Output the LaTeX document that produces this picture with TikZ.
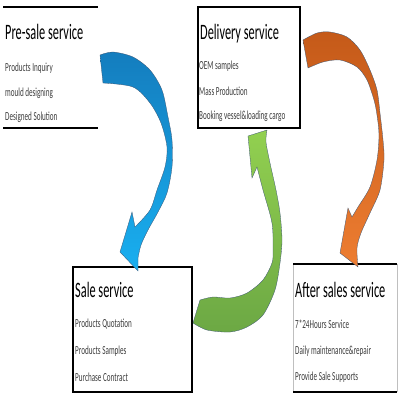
\documentclass[tikz,border=0pt]{standalone}
\usepackage{fontspec}
\setmainfont{Carlito}
\newfontfamily\titlefont{Carlito}[FakeStretch=0.56]
\newfontfamily\itemfont{Carlito}[FakeStretch=0.58]
\definecolor{bluetop}{RGB}{20,125,190}
\definecolor{bluebot}{RGB}{25,175,240}
\definecolor{greentop}{RGB}{146,208,80}
\definecolor{greenbot}{RGB}{108,168,68}
\definecolor{orangetop}{RGB}{197,90,25}
\definecolor{orangebot}{RGB}{237,125,49}
\definecolor{edgeline}{RGB}{60,85,115}
\definecolor{itemtext}{RGB}{60,60,60}
\tikzset{
  title/.style={anchor=base west, inner sep=0pt, font=\titlefont\fontsize{22}{24}\selectfont},
  item/.style={anchor=base west, inner sep=0pt, text=itemtext, font=\itemfont\fontsize{12.3}{14}\selectfont},
  boxline/.style={draw=black, line width=1.1pt},
  sideline/.style={draw=black!25, line width=0.6pt},
  blockarrow/.style={draw=edgeline, line width=0.3pt}
}
\begin{document}
\begin{tikzpicture}[x=1pt,y=-1pt]
\useasboundingbox (0,0) rectangle (400,400);

% Pre-sale
\draw[boxline] (3,7) -- (98,7);
\draw[boxline] (3,128) -- (98,128);
\node[title] (pretitle) at (5,39) {Pre-sale service};
\node[item] (pre1) at (5,71) {Products Inquiry};
\node[item] (pre2) at (5,96) {mould designing};
\node[item] (pre3) at (5,120) {Designed Solution};

% Delivery
\draw[boxline] (198,7) rectangle (300,128);
\node[title] (deltitle) at (200,39) {Delivery service};
\node[item] (del1) at (199,69) {OEM samples};
\node[item] (del2) at (199,95) {Mass Production};
\node[item] (del3) at (199,119) {Booking vessel\&loading cargo};

% Sale
\draw[boxline] (73,267) rectangle (192,392);
\node[title] (saletitle) at (75,297) {Sale service};
\node[item] (sale1) at (75,327) {Products Quotation};
\node[item] (sale2) at (75,354) {Products Samples};
\node[item] (sale3) at (75,381) {Purchase Contract};

% After sales
\draw[sideline] (293,264) -- (293,392);
\draw[sideline] (397,264) -- (397,392);
\draw[boxline] (293,264) -- (397,264);
\draw[boxline] (293,392) -- (397,392);
\node[title] (aftertitle) at (295,297) {After sales service};
\node[item] (after1) at (295,328) {7*24Hours Service};
\node[item] (after2) at (295,354) {Daily maintenance\&repair};
\node[item] (after3) at (295,380) {Provide Sale Supports};

% Blue arrow
\path[blockarrow, top color=bluetop, bottom color=bluebot]
  (100,55) -- plot[smooth] coordinates {(100,55) (113,52) (133,57) (150,70) (162,90) (168,117) (172,140) (172,167) (167,193) (158,212) (148,230) (141,245) (138,258)}
  -- (138,271) -- (120,252) -- (132,212) -- (135,227)
  -- plot[smooth] coordinates {(135,227) (150,210) (157,190) (165,167) (167,147) (161,123) (150,103) (133,87) (103,83)}
  -- cycle;

% Green arrow
\path[blockarrow, top color=greentop, bottom color=greenbot]
  (200,300) -- plot[smooth] coordinates {(200,300) (213,297) (230,298) (247,293) (263,280) (272,263) (273,250) (272,223) (263,190) (257,167)}
  -- (252,178) -- (248,136) -- (267,130)
  -- plot[smooth] coordinates {(267,130) (266,142) (270,163) (276,190) (280,213) (282,240) (280,263) (275,290) (263,315) (247,327) (230,332) (207,330) (193,323)}
  -- cycle;

% Orange arrow
\path[blockarrow, top color=orangetop, bottom color=orangebot]
  (303,40) -- plot[smooth] coordinates {(303,40) (317,33) (330,32) (347,37) (360,50) (370,70) (377,90) (380,113) (383,140) (384,160) (380,190) (370,213) (361,233) (357,248) (358,267)}
  -- (340,253) -- (348,208) -- (352,217)
  -- plot[smooth] coordinates {(352,217) (358,207) (370,187) (377,160) (379,135) (377,115) (374,100) (367,80) (357,67) (340,60) (323,62) (308,68)}
  -- cycle;
\end{tikzpicture}
\end{document}
